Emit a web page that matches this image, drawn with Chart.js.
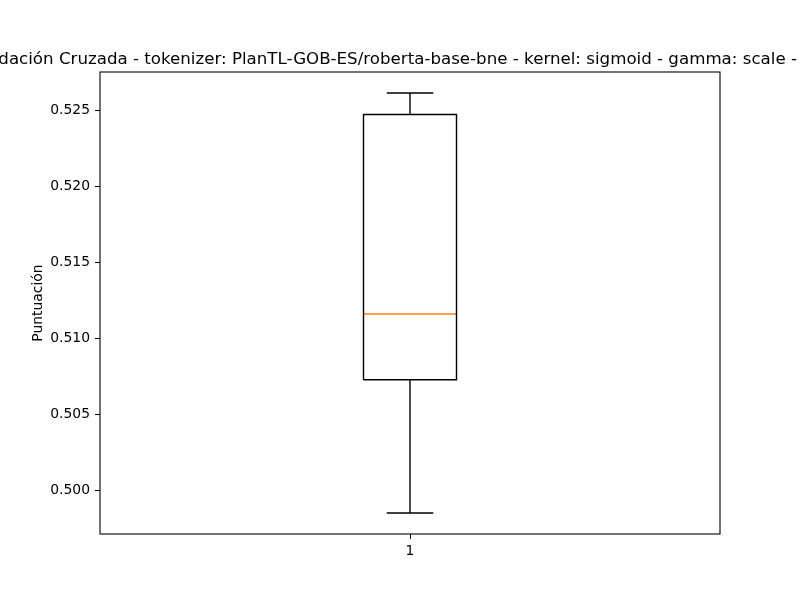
<!DOCTYPE html>
<html>
<head>
<meta charset="utf-8">
<script src="https://cdn.jsdelivr.net/npm/chart.js@4/dist/chart.umd.min.js"></script>
<style>
  html, body { margin: 0; padding: 0; background: #fff; }
  canvas { display: block; }
</style>
</head>
<body>
<canvas id="c" width="800" height="600"></canvas>
<script>
// ---- Data ----
const categories = ["1"];
const categoryPositions = [1];
const whiskerLow = [0.49849];
const q1Values = [0.50726];
const medianValues = [0.51159];
const q3Values = [0.52472];
const whiskerHigh = [0.52613];
const yTickValues = [0.500, 0.505, 0.510, 0.515, 0.520, 0.525];
const titleText = "Validación Cruzada - tokenizer: PlanTL-GOB-ES/roberta-base-bne - kernel: sigmoid - gamma: scale - C: 1.0";
const yAxisLabel = "Puntuación";

// ---- Styles ----
const FONT = '"DejaVu Sans", sans-serif';
const boxWidth = 0.15;
const capWidth = boxWidth / 2;
const lineW = 1.4;

// y range like matplotlib (5% margins around data)
const dataMin = Math.min(...whiskerLow);
const dataMax = Math.max(...whiskerHigh);
const margin = (dataMax - dataMin) * 0.05;

const datasets = [];
categoryPositions.forEach((x, i) => {
  const l = x - boxWidth / 2, r = x + boxWidth / 2;
  const cl = x - capWidth / 2, cr = x + capWidth / 2;
  const common = { showLine: true, pointRadius: 0, borderWidth: lineW, fill: false, tension: 0 };
  datasets.push({ ...common, borderColor: '#000', data: [
    {x: l, y: q1Values[i]}, {x: r, y: q1Values[i]}, {x: r, y: q3Values[i]}, {x: l, y: q3Values[i]}, {x: l, y: q1Values[i]}
  ]});
  datasets.push({ ...common, borderColor: '#000', data: [{x: x, y: q1Values[i]}, {x: x, y: whiskerLow[i]}] });
  datasets.push({ ...common, borderColor: '#000', data: [{x: x, y: q3Values[i]}, {x: x, y: whiskerHigh[i]}] });
  datasets.push({ ...common, borderColor: '#000', data: [{x: cl, y: whiskerLow[i]}, {x: cr, y: whiskerLow[i]}] });
  datasets.push({ ...common, borderColor: '#000', data: [{x: cl, y: whiskerHigh[i]}, {x: cr, y: whiskerHigh[i]}] });
  datasets.push({ ...common, borderColor: '#ff7f0e', data: [{x: l, y: medianValues[i]}, {x: r, y: medianValues[i]}] });
});

const framePlugin = {
  id: 'frame',
  afterDraw(chart) {
    const {ctx, chartArea: a} = chart;
    ctx.save();
    ctx.strokeStyle = '#000';
    ctx.lineWidth = 1.1;
    ctx.strokeRect(a.left, a.top, a.right - a.left, a.bottom - a.top);
    ctx.fillStyle = '#000';
    ctx.font = '16.67px ' + FONT;
    ctx.textAlign = 'center';
    ctx.textBaseline = 'alphabetic';
    ctx.fillText(titleText, (a.left + a.right) / 2, 63.5);
    ctx.restore();
  }
};

new Chart(document.getElementById('c'), {
  type: 'scatter',
  data: { datasets },
  options: {
    responsive: false,
    animation: false,
    layout: { padding: { left: 0, top: 72, right: 80, bottom: 0 } },
    plugins: { legend: { display: false }, tooltip: { enabled: false }, title: { display: false } },
    scales: {
      x: {
        type: 'linear',
        min: 0.5, max: 1.5,
        afterBuildTicks(s) { s.ticks = categoryPositions.map(v => ({value: v})); },
        afterFit(s) { s.height = 66; },
        border: { display: false },
        grid: { drawOnChartArea: false, drawTicks: true, tickLength: 5, color: '#000', lineWidth: 1 },
        ticks: {
          color: '#000', font: { family: FONT, size: 13.9 }, padding: 4,
          callback(v) { const i = categoryPositions.indexOf(v); return i >= 0 ? categories[i] : ''; }
        }
      },
      y: {
        type: 'linear',
        min: dataMin - margin, max: dataMax + margin,
        afterBuildTicks(s) { s.ticks = yTickValues.map(v => ({value: v})); },
        afterFit(s) { s.width = 100; },
        border: { display: false },
        grid: { drawOnChartArea: false, drawTicks: true, tickLength: 5, color: '#000', lineWidth: 1 },
        ticks: {
          color: '#000', font: { family: FONT, size: 13.9 }, padding: 5,
          callback(v) { return Number(v).toFixed(3); }
        },
        title: {
          display: true, text: yAxisLabel, color: '#000',
          font: { family: FONT, size: 13.9 }, padding: { top: 30, bottom: 0 }
        }
      }
    }
  },
  plugins: [framePlugin]
});
</script>
</body>
</html>
